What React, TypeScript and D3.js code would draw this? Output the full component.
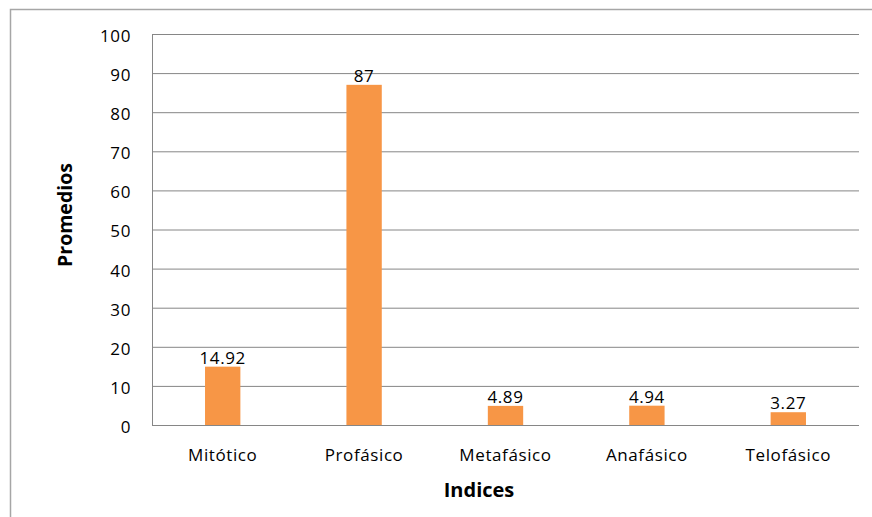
import React from "react";
import * as d3 from "d3";

const categories = ["Mitótico", "Profásico", "Metafásico", "Anafásico", "Telofásico"];
const values = [14.92, 87, 4.89, 4.94, 3.27];
const valueLabels = ["14.92", "87", "4.89", "4.94", "3.27"];
const yTicks = [0, 10, 20, 30, 40, 50, 60, 70, 80, 90, 100];

const width = 872;
const height = 517;
const margin = { top: 34, right: 13, bottom: 92, left: 152 };
const font = "'Open Sans', sans-serif";
const ls = 0.6; // letter spacing to widen the text a bit

export default function App() {
  const x = d3
    .scaleBand<string>()
    .domain(categories)
    .range([margin.left, width - margin.right])
    .paddingInner(0)
    .paddingOuter(0);
  const y = d3
    .scaleLinear()
    .domain([0, 100])
    .range([height - margin.bottom, margin.top]);
  const barW = x.bandwidth() * 0.25;
  const x0 = margin.left;
  const x1 = width - margin.right;
  const y0 = y(0);

  return (
    <svg
      width={width}
      height={height}
      style={{ position: "absolute", left: 0, top: 0, background: "#fff" }}
    >
      {/* chart border */}
      <rect x={10.5} y={9.5} width={width} height={height} fill="none" stroke="#a6a6a6" strokeWidth={1.5} />

      {/* gridlines */}
      {yTicks.map((t) => (
        <line key={t} x1={x0} x2={x1} y1={y(t) + 0.5} y2={y(t) + 0.5} stroke="#868686" strokeWidth={1} />
      ))}
      {/* axes */}
      <line x1={x0 + 0.5} x2={x0 + 0.5} y1={y(100)} y2={y0} stroke="#868686" />
      <line x1={x0} x2={x1} y1={y0 + 0.5} y2={y0 + 0.5} stroke="#868686" />

      {/* y tick labels */}
      {yTicks.map((t) => (
        <text
          key={t}
          x={131}
          y={y(t) + 2}
          dy="0.35em"
          textAnchor="end"
          fontFamily={font}
          fontSize={17}
          letterSpacing={ls}
          fill="#000"
        >
          {t}
        </text>
      ))}

      {/* bars */}
      {categories.map((c, i) => {
        const cx = (x(c) as number) + x.bandwidth() / 2;
        return (
          <g key={c}>
            <rect x={cx - barW / 2} y={y(values[i])} width={barW} height={y0 - y(values[i])} fill="#F79646" />
            <text
              x={cx}
              y={y(values[i]) - 3}
              textAnchor="middle"
              fontFamily={font}
              fontSize={17}
              letterSpacing={ls}
              fill="#000"
            >
              {valueLabels[i]}
            </text>
            <text
              x={cx}
              y={461}
              textAnchor="middle"
              fontFamily={font}
              fontSize={17}
              letterSpacing={ls}
              fill="#000"
            >
              {c}
            </text>
          </g>
        );
      })}

      {/* axis titles */}
      <text x={479} y={497} textAnchor="middle" fontFamily={font} fontSize={20} fontWeight="bold" fill="#000">
        Indices
      </text>
      <text
        transform="translate(72,215) rotate(-90)"
        textAnchor="middle"
        fontFamily={font}
        fontSize={19.5}
        fontWeight="bold"
        fill="#000"
      >
        Promedios
      </text>
    </svg>
  );
}
